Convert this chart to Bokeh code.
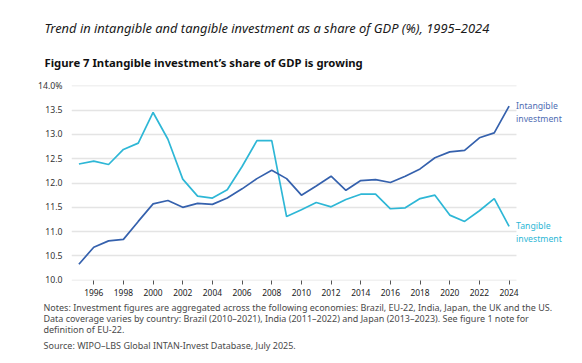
from bokeh.plotting import figure
from bokeh.models import Range1d, Title, FixedTicker, NumeralTickFormatter
from bokeh.core.properties import value
from bokeh.embed import file_html
from bokeh.resources import INLINE

years = [1995, 1996, 1997, 1998, 1999, 2000, 2001, 2002, 2003, 2004,
         2005, 2006, 2007, 2008, 2009, 2010, 2011, 2012, 2013, 2014,
         2015, 2016, 2017, 2018, 2019, 2020, 2021, 2022, 2023, 2024]
intangible = [10.33, 10.68, 10.81, 10.84, 11.21, 11.57, 11.64, 11.50, 11.58, 11.56,
              11.69, 11.88, 12.09, 12.26, 12.09, 11.75, 11.94, 12.14, 11.85, 12.05,
              12.07, 12.01, 12.14, 12.29, 12.52, 12.64, 12.67, 12.93, 13.03, 13.58]
tangible = [12.39, 12.45, 12.38, 12.69, 12.82, 13.45, 12.90, 12.08, 11.73, 11.69,
            11.86, 12.34, 12.87, 12.87, 11.31, 11.45, 11.60, 11.51, 11.66, 11.77,
            11.77, 11.47, 11.49, 11.68, 11.75, 11.34, 11.21, 11.43, 11.68, 11.11]
x_ticks = [1996, 1998, 2000, 2002, 2004, 2006, 2008, 2010, 2012, 2014,
           2016, 2018, 2020, 2022, 2024]
y_ticks = [10.0, 10.5, 11.0, 11.5, 12.0, 12.5, 13.0, 13.5, 14.0]

title_text = "Trend in intangible and tangible investment as a share of GDP (%), 1995\u20132024"
subtitle_text = "Figure 7 Intangible investment\u2019s share of GDP is growing"
notes_text = ("Notes: Investment figures are aggregated across the following economies: Brazil, EU-22, India, Japan, the UK and the US.\n"
              "Data coverage varies by country: Brazil (2010\u20132021), India (2011\u20132022) and Japan (2013\u20132023). See  figure 1 note for\n"
              "definition of EU-22.")
source_text = "Source: WIPO\u2013LBS Global INTAN-Invest Database, July 2025."
label_int = "Intangible\ninvestment"
label_tan = "Tangible\ninvestment"

C_INT = "#3561ad"
C_TAN = "#2eb7d6"
FONT = "Noto Sans"

# data area spans 1994.5-2024.5; the frame extends further right for the line-end labels
p = figure(frame_width=503, frame_height=195, output_backend="svg", toolbar_location=None,
           x_range=Range1d(1994.5, 2028.41), y_range=Range1d(9.995, 14.005),
           min_border_left=71, min_border_right=2, min_border_top=85, min_border_bottom=10)
p.outline_line_color = None
p.background_fill_color = "white"
p.border_fill_color = "white"

p.line(years, tangible, line_color=C_TAN, line_width=1.7)
p.line(years, intangible, line_color=C_INT, line_width=1.7)

p.text(x=[years[-1]], y=[intangible[-1]], text=[label_int], x_offset=7, y_offset=-6,
       text_font=value(FONT), text_font_size="8.7px", text_color="#4f6db3",
       text_baseline="top", text_align="left", text_line_height=1.05)
p.text(x=[years[-1]], y=[tangible[-1]], text=[label_tan], x_offset=7, y_offset=-6,
       text_font=value(FONT), text_font_size="8.7px", text_color=C_TAN,
       text_baseline="top", text_align="left", text_line_height=1.05)

p.xgrid.grid_line_color = None
p.ygrid.grid_line_color = "#e4e4e4"
p.ygrid.grid_line_width = 1.5
p.ygrid.ticker = FixedTicker(ticks=y_ticks)
try:
    p.ygrid[0].cross_bounds = (1994.5, 2024.5)
except Exception:
    pass

p.yaxis.ticker = FixedTicker(ticks=y_ticks)
p.yaxis.formatter = NumeralTickFormatter(format="0.0")
p.yaxis.major_label_overrides = {14: "14.0%"}
p.yaxis.axis_line_color = None
p.yaxis.major_tick_line_color = None
p.yaxis.minor_tick_line_color = None
p.yaxis.major_label_standoff = 3
p.yaxis.major_label_text_font = FONT
p.yaxis.major_label_text_font_size = "8.7px"
p.yaxis.major_label_text_color = "#333333"

p.xaxis.ticker = FixedTicker(ticks=x_ticks)
p.xaxis.axis_line_color = None
p.xaxis.major_tick_line_color = "#555555"
p.xaxis.major_tick_out = 4
p.xaxis.major_tick_in = 0
p.xaxis.minor_tick_line_color = None
p.xaxis.major_label_standoff = 4
p.xaxis.major_label_text_font = FONT
p.xaxis.major_label_text_font_size = "8.4px"
p.xaxis.major_label_text_color = "#222222"

# titles above: first added sits closest to the plot
p.add_layout(Title(text=subtitle_text, text_font=FONT, text_font_size="11.3px",
                   text_font_style="bold", text_color="#111111", align="left",
                   offset=-27, standoff=32), "above")
p.add_layout(Title(text=title_text, text_font=FONT, text_font_size="12.9px",
                   text_font_style="italic", text_color="#1a1a1a", align="left",
                   offset=-27, standoff=0), "above")
# notes below
p.add_layout(Title(text=notes_text, text_font=FONT, text_font_size="9px",
                   text_font_style="normal", text_color="#4a4a4a", align="left",
                   offset=-28, standoff=0, text_line_height=0.88), "below")
p.add_layout(Title(text=source_text, text_font=FONT, text_font_size="9px",
                   text_font_style="normal", text_color="#4a4a4a", align="left",
                   offset=-28, standoff=0), "below")

open("out.html", "w").write(file_html(p, INLINE))
